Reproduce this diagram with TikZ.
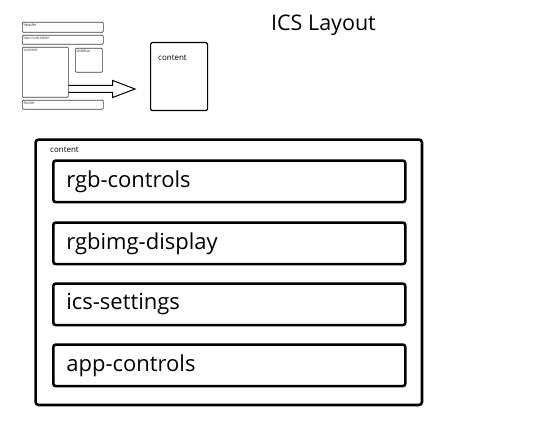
\documentclass[tikz,border=0pt]{standalone}
\usepackage{fontspec}
\setmainfont{Open Sans}
\usetikzlibrary{calc}

\begin{document}
\begin{tikzpicture}[x=1pt,y=-1pt,
    wire/.style={draw=black!75,line width=0.7pt,rounded corners=1pt,anchor=north west,inner sep=0pt},
    wirelbl/.style={anchor=north west,inner sep=1.3pt,text=black!75,font=\fontsize{4}{4}\selectfont},
    page/.style={draw,line width=1.2pt,rounded corners=1.5pt,anchor=north west,inner sep=0pt,minimum width=57,minimum height=68},
    smalllbl/.style={anchor=north west,inner sep=0pt,font=\fontsize{8}{9}\selectfont},
    outer/.style={draw,line width=2.6pt,rounded corners=3pt,anchor=north west,inner sep=0pt,minimum width=386.4,minimum height=265.4},
    part/.style={draw,line width=2.6pt,rounded corners=2.5pt,anchor=north west,inner xsep=13pt,inner ysep=0pt,
      text width=326pt,minimum height=41.5,align=left,font=\fontsize{22}{26}\selectfont}]
    \useasboundingbox (0,0) rectangle (560,435);
    \node[anchor=base,font=\fontsize{21.5}{26}\selectfont] (title) at (323.5,31) {ICS Layout};
    \node[wire,minimum width=81,minimum height=10,label={[wirelbl]north west:header}] (header) at (22,22) {};
    \node[wire,minimum width=81,minimum height=9,label={[wirelbl]north west:nav-container}] (nav) at (22,35) {};
    \node[wire,minimum width=46,minimum height=50,label={[wirelbl]north west:content}] (wcontent) at (22,47) {};
    \node[wire,minimum width=27,minimum height=24,label={[wirelbl]north west:sidebar}] (sidebar) at (75,48) {};
    \node[wire,minimum width=81,minimum height=9,label={[wirelbl]north west:footer}] (footer) at (22,100) {};
    \node[page] (pg) at (150,42) {};
    \node[smalllbl] (pglbl) at (158,55) {content};
    \coordinate (tail) at (wcontent.east |- 0,89);
    \coordinate (tip) at ($(pg.west |- tail)+(-15,0)$);
    \draw[line width=1pt,line join=miter]
    ($(tail)+(0,-3.5)$) -- ($(tail)+(44,-3.5)$) -- ($(tail)+(44,-8.5)$) --
    (tip) --
    ($(tail)+(44,8.5)$) -- ($(tail)+(44,3.5)$) -- ($(tail)+(0,3.5)$);
    \node[outer] (main) at (34.3,138.3) {};
    \node[smalllbl] (mainlbl) at (50,147.5) {content};
    \node[part] (rgbctl) at (52,159.3) {rgb-controls};
    \node[part] (rgbimg) at (52,221.3) {rgbimg-display};
    \node[part] (icsset) at (52,282.3) {ics-settings};
    \node[part] (appctl) at (52,343.3) {app-controls};
  \end{tikzpicture}
\end{document}
